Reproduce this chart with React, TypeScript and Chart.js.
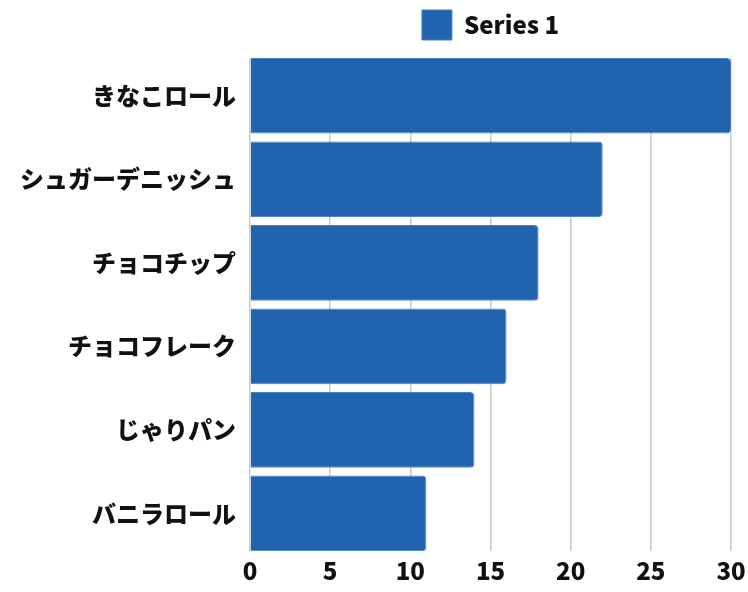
import React, { useEffect, useRef } from "react";
import { Chart, registerables } from "chart.js";

Chart.register(...registerables);

const categories = ["きなこロール", "シュガーデニッシュ", "チョコチップ", "チョコフレーク", "じゃりパン", "バニラロール"];
const seriesName = "Series 1";
const values = [30, 22, 18, 16, 14, 11];

const FONT = "'Noto Sans CJK JP', 'Noto Sans', sans-serif";

const legendSpacer = {
  id: "legendSpacer",
  beforeInit(chart: any) {
    const lg = chart.legend;
    if (!lg) return;
    const fit = lg.fit;
    lg.fit = function () {
      fit.call(this);
      this.height += 8;
    };
  },
};

export default function App() {
  const ref = useRef<HTMLCanvasElement | null>(null);
  useEffect(() => {
    if (!ref.current) return;
    const points = values.map((v, i) => ({ x: v, y: i }));
    const chart = new Chart(ref.current, {
      type: "bar",
      data: {
        datasets: [
          {
            label: seriesName,
            data: points,
            backgroundColor: "#2163ae",
            borderColor: "#4a82c4",
            borderWidth: 1,
            borderRadius: 4,
            borderSkipped: "start",
            barPercentage: 0.905,
            categoryPercentage: 1,
          },
        ],
      },
      plugins: [legendSpacer],
      options: {
        indexAxis: "y",
        animation: false,
        responsive: false,
        maintainAspectRatio: false,
        layout: { padding: { top: 0, right: 0, bottom: 2, left: 14 } },
        plugins: {
          legend: {
            display: true,
            position: "top",
            fullSize: false,
            labels: {
              boxWidth: 30,
              boxHeight: 30,
              color: "#111",
              font: { family: FONT, size: 24, weight: 900 },
              padding: 10,
            },
          },
          tooltip: { enabled: false },
        },
        scales: {
          x: {
            type: "linear",
            min: 0,
            max: 30,
            afterFit: (scale: any) => {
              scale.paddingRight = 17;
            },
            ticks: {
              stepSize: 5,
              color: "#111",
              font: { family: FONT, size: 24, weight: 900 },
              padding: 5,
            },
            grid: { color: "#c8c8c8", lineWidth: 1.5, drawTicks: false },
            border: { display: false },
          },
          y: {
            type: "linear",
            reverse: true,
            offset: false,
            bounds: "data",
            min: -0.4525,
            max: categories.length - 1 + 0.4525,
            afterBuildTicks: (scale: any) => {
              scale.ticks = categories.map((_, i) => ({ value: i }));
            },
            ticks: {
              color: "#111",
              font: { family: FONT, size: 24, weight: 900 },
              padding: 6,
              autoSkip: false,
              callback: (v: any) => categories[Number(v)] ?? "",
            },
            grid: { display: false, offset: false },
            border: { display: false },
          },
        },
      },
    });
    return () => chart.destroy();
  }, []);
  return (
    <div style={{ position: "absolute", left: 0, top: 0, width: 748, height: 592 }}>
      <canvas ref={ref} width={748} height={592} style={{ width: 748, height: 592 }} />
    </div>
  );
}
